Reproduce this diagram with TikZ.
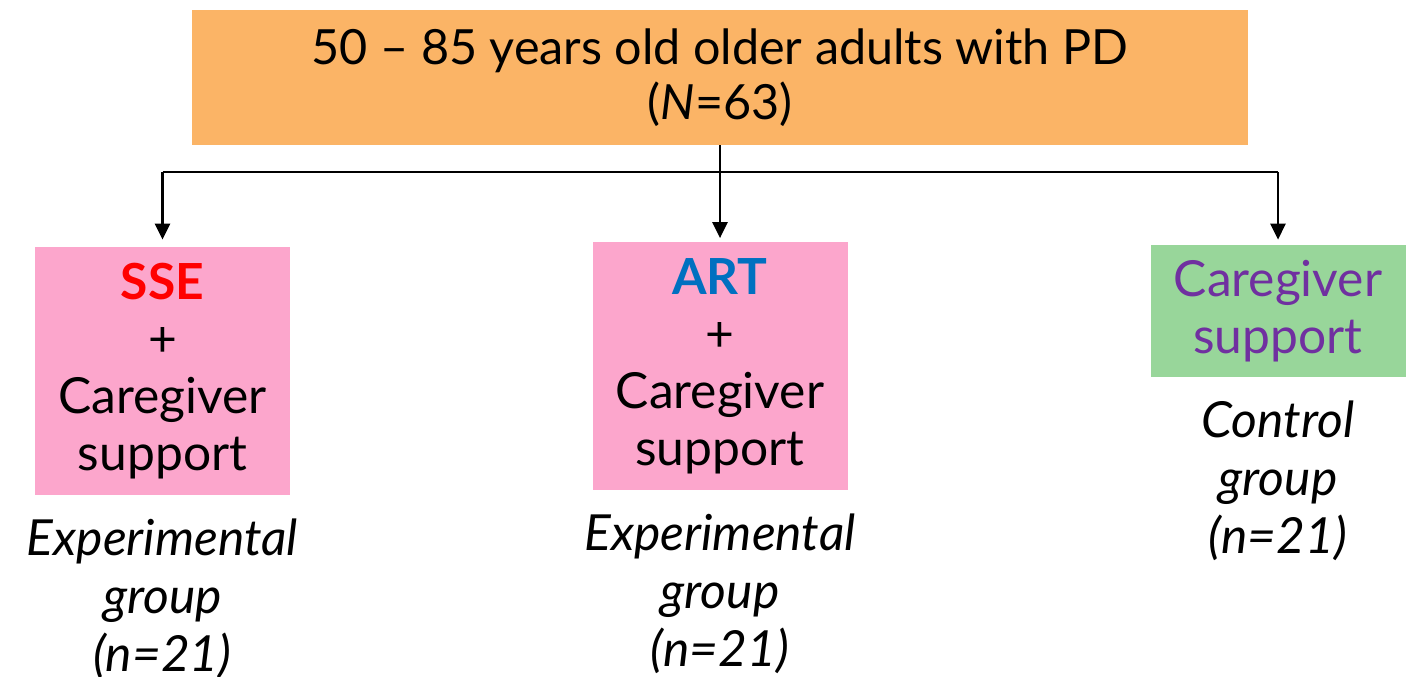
\documentclass[tikz,border=0pt]{standalone}
\usepackage{fontspec}
\setmainfont{Lato}
\usetikzlibrary{positioning,arrows.meta}
\definecolor{poporange}{HTML}{FBB466}
\definecolor{armpink}{HTML}{FCA6CC}
\definecolor{ctlgreen}{HTML}{98D69A}
\definecolor{ssered}{HTML}{FF0000}
\definecolor{artblue}{HTML}{0070C0}
\definecolor{cgpurple}{HTML}{7030A0}
\tikzset{
  big/.style={font=\fontsize{28.3}{32.4}\selectfont},
  popbox/.style={big,fill=poporange,minimum width=211.2mm,minimum height=27mm,
                 align=center,inner sep=0pt,font=\fontsize{27.6}{31.3}\selectfont},
  armbox/.style={big,fill=armpink,minimum width=51mm,minimum height=49.6mm,
                 align=center,inner sep=0pt},
  ctlbox/.style={big,fill=ctlgreen,text=cgpurple,minimum width=51mm,minimum height=26.4mm,
                 align=center,inner sep=0pt},
  grplbl/.style={big,align=center,inner sep=0pt,font=\fontsize{28.3}{33}\selectfont\itshape},
  arr/.style={-{Triangle[length=3.2mm,width=3mm]},line width=1.5pt},
  bar/.style={line width=0.7pt},
}
\begin{document}
\begin{tikzpicture}[x=0.2mm,y=-0.2mm]
\useasboundingbox (0,0) rectangle (1414,677);

% study population
\node[popbox] (pop) at (720,77.5) {50 – 85 years old older adults with PD\\(\textit{N}=63)};

% arms
\node[armbox] (sse) at (162.5,371) {\textcolor{ssered}{\textbf{SSE}}\\+\\Caregiver\\support};
\node[armbox] (art) at (720,366) {\textcolor{artblue}{\textbf{ART}}\\+\\Caregiver\\support};
\node[ctlbox] (cg) at (1278,311) {Caregiver\\support};

% group labels
\node[grplbl,below=4.6mm of sse] (sselbl) {Experimental\\group\\(n=21)};
\node[grplbl,below=4.6mm of art] (artlbl) {Experimental\\group\\(n=21)};
\node[grplbl,below=4.6mm of cg]  (cglbl)  {Control\\group\\(n=21)};

% allocation
\coordinate (split) at (720,172);
\draw[bar] (sse.north |- split) -- (cg.north |- split);
\draw[arr] (pop.south) -- ([yshift=2pt]art.north);
\draw[arr] (sse.north |- split) -- ([yshift=1.4mm]sse.north);
\draw[arr] (cg.north |- split) -- ([yshift=1mm]cg.north);

\end{tikzpicture}
\end{document}
